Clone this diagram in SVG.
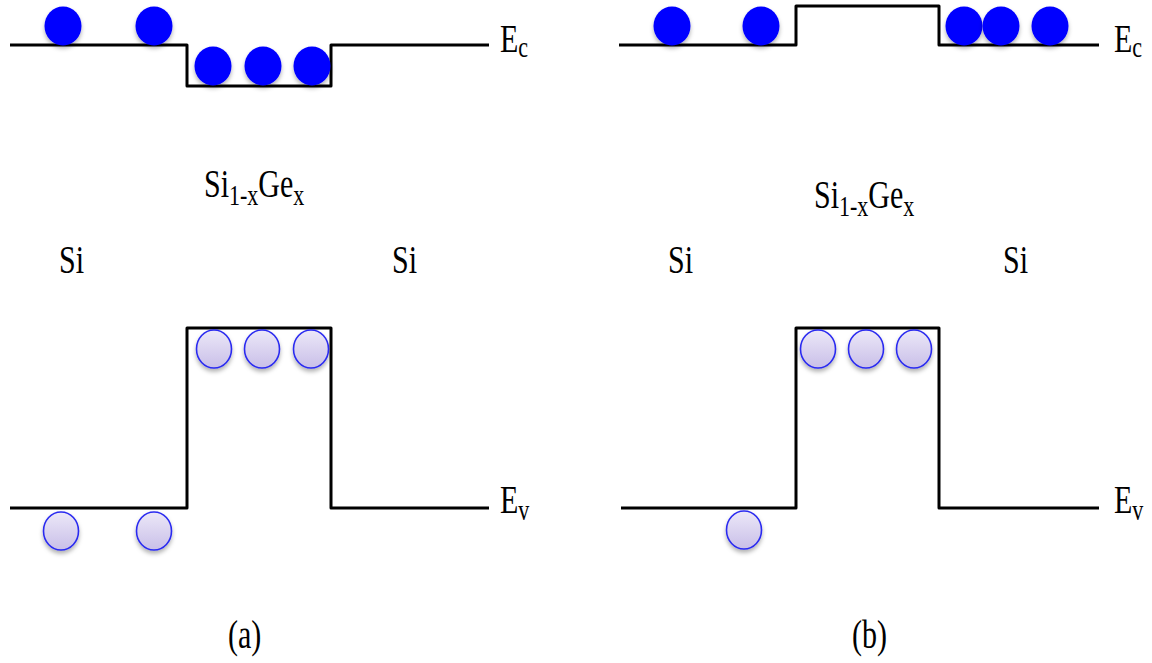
<svg xmlns="http://www.w3.org/2000/svg" width="1152" height="663" viewBox="0 0 1152 663">
  <defs>
    <linearGradient id="holeFill" x1="0" y1="0" x2="0" y2="1">
      <stop offset="0" stop-color="#ECE8F8"/>
      <stop offset="1" stop-color="#C9BFE8"/>
    </linearGradient>
    <filter id="shadow" x="-40%" y="-40%" width="180%" height="190%">
      <feDropShadow dx="0" dy="3" stdDeviation="2" flood-color="#000" flood-opacity="0.3"/>
    </filter>
  </defs>
  <style>
    .band { fill: none; stroke: #000; stroke-width: 3; stroke-linejoin: round; }
    .e { fill: #0000FF; filter: url(#shadow); }
    .h { fill: url(#holeFill); stroke: #2B2BF0; stroke-width: 1.6; filter: url(#shadow); }
    .t { font-family: "Liberation Serif", "Times New Roman", serif; font-size: 30px; fill: #000; }
    .s { font-size: 22px; }
  </style>
  <rect width="1152" height="663" fill="#fff"/>

  <g id="connectors">
    <path id="ec-a" class="band" d="M10,45 H187 V86 H331 V45 H489"/>
    <path id="ev-a" class="band" d="M10,508 H187 V328 H331 V508 H489"/>
    <path id="ec-b" class="band" d="M619,45 H796 V6 H939 V45 H1099"/>
    <path id="ev-b" class="band" d="M621,508 H796 V328 H939 V508 H1099"/>
  </g>

  <g id="electrons-a">
    <ellipse class="e" cx="63" cy="26" rx="18.5" ry="19.5"/>
    <ellipse class="e" cx="154" cy="26" rx="18.5" ry="19.5"/>
    <ellipse class="e" cx="213" cy="66" rx="18.5" ry="19.5"/>
    <ellipse class="e" cx="263" cy="66" rx="18.5" ry="19.5"/>
    <ellipse class="e" cx="312" cy="66" rx="18.5" ry="19.5"/>
  </g>
  <g id="holes-a">
    <ellipse class="h" cx="214" cy="349" rx="17.5" ry="19"/>
    <ellipse class="h" cx="262" cy="349" rx="17.5" ry="19"/>
    <ellipse class="h" cx="311" cy="349" rx="17.5" ry="19"/>
    <ellipse class="h" cx="61" cy="531" rx="17.5" ry="19"/>
    <ellipse class="h" cx="154" cy="531" rx="17.5" ry="19"/>
  </g>
  <g id="electrons-b">
    <ellipse class="e" cx="672" cy="26" rx="18.5" ry="19.5"/>
    <ellipse class="e" cx="761" cy="26" rx="18.5" ry="19.5"/>
    <ellipse class="e" cx="964" cy="26" rx="18.5" ry="19.5"/>
    <ellipse class="e" cx="1001" cy="26" rx="18.5" ry="19.5"/>
    <ellipse class="e" cx="1050" cy="26" rx="18.5" ry="19.5"/>
  </g>
  <g id="holes-b">
    <ellipse class="h" cx="818" cy="349" rx="17.5" ry="19"/>
    <ellipse class="h" cx="866" cy="349" rx="17.5" ry="19"/>
    <ellipse class="h" cx="914" cy="349" rx="17.5" ry="19"/>
    <ellipse class="h" cx="744" cy="530" rx="17.5" ry="19"/>
  </g>

  <g id="labels-a">
    <text class="t" transform="translate(500,52) scale(1,1.3)">E<tspan class="s" dy="4">c</tspan></text>
    <text class="t" transform="translate(500,513) scale(1,1.3)">E<tspan class="s" dy="5">v</tspan></text>
    <text class="t" transform="translate(204,197) scale(1,1.3)">Si<tspan class="s" dy="6">1-x</tspan><tspan dy="-6">Ge</tspan><tspan class="s" dy="6">x</tspan></text>
    <text class="t" transform="translate(59,273) scale(1,1.3)">Si</text>
    <text class="t" transform="translate(392,273) scale(1,1.3)">Si</text>
    <text class="t" transform="translate(228,648) scale(1,1.3)">(a)</text>
  </g>
  <g id="labels-b">
    <text class="t" transform="translate(1114,52) scale(1,1.3)">E<tspan class="s" dy="4">c</tspan></text>
    <text class="t" transform="translate(1114,513) scale(1,1.3)">E<tspan class="s" dy="5">v</tspan></text>
    <text class="t" transform="translate(814,208) scale(1,1.3)">Si<tspan class="s" dy="6">1-x</tspan><tspan dy="-6">Ge</tspan><tspan class="s" dy="6">x</tspan></text>
    <text class="t" transform="translate(668,273) scale(1,1.3)">Si</text>
    <text class="t" transform="translate(1003,273) scale(1,1.3)">Si</text>
    <text class="t" transform="translate(852,648) scale(1,1.3)">(b)</text>
  </g>
</svg>
